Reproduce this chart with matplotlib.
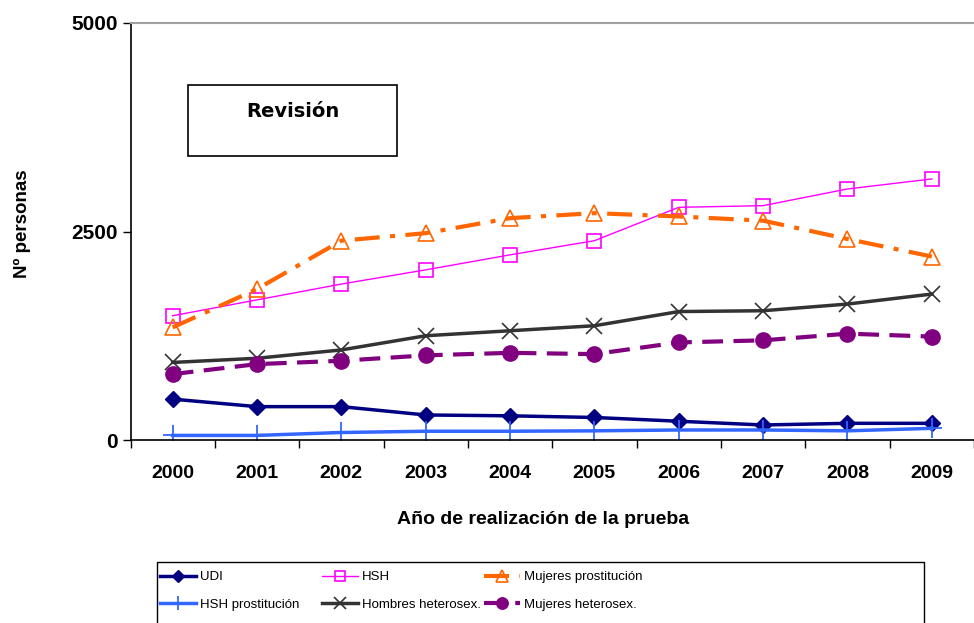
import matplotlib.pyplot as plt
from matplotlib.patches import Rectangle
import numpy as np

plt.rcParams['font.family'] = ['Liberation Sans', 'DejaVu Sans']

# data
years = ['2000', '2001', '2002', '2003', '2004', '2005', '2006', '2007', '2008', '2009']

udi = [490, 400, 400, 300, 290, 270, 225, 180, 200, 200]
hsh = [1490, 1680, 1870, 2040, 2220, 2390, 2790, 2810, 3010, 3130]
muj_prost = [1350, 1810, 2390, 2480, 2660, 2720, 2680, 2630, 2410, 2200]
hsh_prost = [55, 55, 90, 105, 105, 110, 120, 120, 110, 140]
hom_het = [930, 980, 1080, 1250, 1310, 1370, 1540, 1550, 1630, 1750]
muj_het = [790, 910, 950, 1015, 1045, 1030, 1170, 1195, 1275, 1240]

yticks = [0, 2500, 5000]

x = np.arange(len(years))
W, H = 974, 623

fig = plt.figure(figsize=(9.74, 6.23), dpi=100)
ax = fig.add_axes([130.5 / W, 1 - 440 / H, 1 - 130.5 / W, (440 - 23) / H])

l_udi, = ax.plot(x, udi, color='#000080', lw=2.5, marker='D', ms=8, mfc='#000080', mec='#000080', label='UDI')
l_hsh, = ax.plot(x, hsh, color='#FF00FF', lw=1.0, marker='s', ms=10, mfc='none', mec='#FF00FF', mew=1.2, label='HSH')
l_mp, = ax.plot(x, muj_prost, color='#FF6600', lw=3, linestyle=(0, (6, 2.5, 1.2, 2.5)), marker='^', ms=12,
                mfc='none', mec='#FF6600', mew=1.2, label='Mujeres prostitución')
l_hp, = ax.plot(x, hsh_prost, color='#3366FF', lw=2.5, marker='+', ms=14, mew=1.3, label='HSH prostitución')
l_hh, = ax.plot(x, hom_het, color='#333333', lw=2.5, marker='x', ms=11, mew=1.2, label='Hombres heterosex.')
l_mh, = ax.plot(x, muj_het, color='#800080', lw=3, linestyle=(0, (5, 2.5)), marker='o', ms=11,
                mfc='#800080', mec='#800080', label='Mujeres heterosex.')

ax.set_xlim(-0.5, len(years) - 0.5)
ax.set_ylim(0, 5000)

ax.set_xticks(x)
ax.set_xticklabels(years, fontsize=14, fontweight='bold')
ax.set_xticks(np.arange(-0.5, len(years)), minor=True)
ax.tick_params(axis='x', which='major', length=0, pad=18)
ax.tick_params(axis='x', which='minor', length=6, width=1, direction='out')
ax.set_yticks(yticks)
ax.set_yticklabels([str(v) for v in yticks], fontsize=15, fontweight='bold')
ax.tick_params(axis='y', length=6, width=1, direction='out', pad=3)

ax.spines['right'].set_visible(False)
ax.spines['top'].set_color('#A0A0A0')
ax.spines['top'].set_linewidth(1.5)
ax.spines['left'].set_linewidth(1.2)
ax.spines['bottom'].set_linewidth(1.2)

fig.text(543 / W, 1 - 520 / H, 'Año de realización de la prueba', ha='center', va='center',
         fontsize=14, fontweight='bold')
fig.text(22 / W, 1 - 223.5 / H, 'Nº personas', ha='center', va='center', rotation=90,
         fontsize=13.5, fontweight='bold')

# "Revisión" box
ax.add_patch(Rectangle((0.068, 0.681), 0.248, 0.170, transform=ax.transAxes,
                       fc='white', ec='black', lw=1.2, zorder=5))
ax.text(0.192, 0.787, 'Revisión', transform=ax.transAxes, ha='center', va='center',
        fontsize=14, fontweight='bold', family='DejaVu Sans', zorder=6)

# legend: frame plus three one-column legends, filled row by row as in the original
fig.patches.append(Rectangle((157 / W, -0.02), (924 - 157) / W, 1 - 562 / H + 0.02,
                             transform=fig.transFigure, fc='white', ec='black', lw=1.0))
cols = [([l_udi, l_hp], 160), ([l_hsh, l_hh], 322), ([l_mp, l_mh], 484)]
for handles, px in cols:
    lg = fig.legend(handles=handles, loc='upper left', bbox_to_anchor=(px / W, 1 - 571 / H),
                    ncol=1, fontsize=9.5, frameon=False, handlelength=2.7,
                    handletextpad=0.3, labelspacing=1.15, borderpad=0.0, borderaxespad=0.0,
                    markerscale=0.75)

fig.savefig('out.png', dpi=100)
